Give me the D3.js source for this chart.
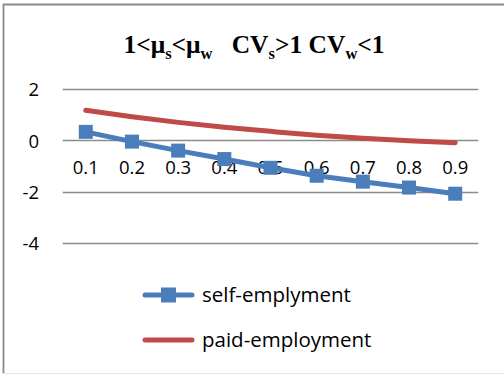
<!DOCTYPE html>
<html>
<head>
<meta charset="utf-8">
<script src="https://cdn.jsdelivr.net/npm/d3@7"></script>
<style>
  html, body { margin: 0; padding: 0; background: #fff; }
  svg { display: block; }
</style>
</head>
<body>
<svg id="chart" width="504" height="374"></svg>
<script>
// Categories on the x axis
const categories = ["0.1", "0.2", "0.3", "0.4", "0.5", "0.6", "0.7", "0.8", "0.9"];
// Series values
const selfEmployment = [0.33, -0.05, -0.40, -0.73, -1.07, -1.38, -1.61, -1.84, -2.08];
const paidEmployment = [1.17, 0.92, 0.70, 0.51, 0.35, 0.20, 0.08, -0.02, -0.09];
// Y axis ticks
const yTicks = [2, 0, -2, -4];
const seriesNames = ["self-emplyment", "paid-employment"];

const blue = "#4A7EBB";
const red = "#BE4B48";
const grid = "#8C8C8C";
const tickFont = "'Open Sans', 'Liberation Sans', sans-serif";

const svg = d3.select("#chart");

// Chart frame
svg.append("path")
  .attr("d", "M3.5,374 V4.5 H504")
  .attr("fill", "none")
  .attr("stroke", "#8A8A8A")
  .attr("stroke-width", 1.8);
svg.append("line")
  .attr("x1", 3).attr("x2", 504).attr("y1", 373.5).attr("y2", 373.5)
  .attr("stroke", "#E6E6E6").attr("stroke-width", 1);

// Title with subscripts
const title = svg.append("text")
  .attr("x", 254).attr("y", 53)
  .attr("text-anchor", "middle")
  .style("font-family", "'Liberation Serif', 'Times New Roman', serif")
  .style("font-weight", "bold")
  .style("font-size", "25.5px")
  .style("white-space", "pre")
  .attr("fill", "#000");
const parts = [
  ["1<μ", false], ["s", true], ["<μ", false], ["w", true],
  ["   CV", false], ["s", true], [">1 CV", false], ["w", true], ["<1", false]
];
parts.forEach(([t, sub], i) => {
  const prevSub = i > 0 && parts[i - 1][1];
  let dy = 0;
  if (sub && !prevSub) dy = 5.5;
  if (!sub && prevSub) dy = -5.5;
  const ts = title.append("tspan").attr("dy", dy).text(t);
  if (sub) ts.style("font-size", "16.5px");
});

// Scales
const x = d3.scaleBand().domain(categories).range([62.7, 478.3]);
const y = d3.scaleLinear().domain([-4, 2]).range([243, 89]);

// Horizontal gridlines
svg.append("g")
  .selectAll("line")
  .data(yTicks)
  .join("line")
  .attr("x1", 62.7).attr("x2", 478.3)
  .attr("y1", d => Math.round(y(d)) + 0.5)
  .attr("y2", d => Math.round(y(d)) + 0.5)
  .attr("stroke", grid)
  .attr("stroke-width", 1.5);

// Y axis labels
const yAxis = d3.axisLeft(y).tickValues(yTicks).tickSize(0).tickPadding(0)
  .tickFormat(d => d < 0 ? "-" + Math.abs(d) : d);
svg.append("g")
  .attr("transform", "translate(39,0)")
  .call(yAxis)
  .call(g => g.select(".domain").remove())
  .call(g => g.selectAll("text")
    .style("font-family", tickFont)
    .style("font-size", "18.5px")
    .attr("fill", "#000")
    .attr("dy", "0.36em"));

// X axis labels, placed just below the zero line
const xAxis = d3.axisBottom(x).tickSize(0).tickPadding(0);
svg.append("g")
  .attr("transform", `translate(0,${y(0)})`)
  .call(xAxis)
  .call(g => g.select(".domain").remove())
  .call(g => g.selectAll("text")
    .style("font-family", tickFont)
    .style("font-size", "18.5px")
    .attr("fill", "#000")
    .attr("dy", null)
    .attr("y", 34));

const cx = d => x(d) + x.bandwidth() / 2;

// Paid employment: smooth line
svg.append("path")
  .datum(paidEmployment)
  .attr("fill", "none")
  .attr("stroke", red)
  .attr("stroke-width", 5)
  .attr("stroke-linecap", "round")
  .attr("d", d3.line()
    .x((d, i) => cx(categories[i]))
    .y(d => y(d))
    .curve(d3.curveMonotoneX));

// Self employment: line with square markers
svg.append("path")
  .datum(selfEmployment)
  .attr("fill", "none")
  .attr("stroke", blue)
  .attr("stroke-width", 5)
  .attr("stroke-linecap", "round")
  .attr("d", d3.line()
    .x((d, i) => cx(categories[i]))
    .y(d => y(d)));

const ms = 14;
svg.append("g")
  .selectAll("rect")
  .data(selfEmployment)
  .join("rect")
  .attr("x", (d, i) => cx(categories[i]) - ms / 2)
  .attr("y", d => y(d) - ms / 2)
  .attr("width", ms).attr("height", ms)
  .attr("fill", blue);

// Legend
const legend = svg.append("g");
const legendRows = [
  { name: seriesNames[0], color: blue, marker: true, y: 295 },
  { name: seriesNames[1], color: red, marker: false, y: 340 }
];
legendRows.forEach(r => {
  legend.append("line")
    .attr("x1", 145).attr("x2", 192)
    .attr("y1", r.y).attr("y2", r.y)
    .attr("stroke", r.color).attr("stroke-width", 5)
    .attr("stroke-linecap", "round");
  if (r.marker) {
    legend.append("rect")
      .attr("x", 168.5 - 7.5).attr("y", r.y - 7.5)
      .attr("width", 15).attr("height", 15)
      .attr("fill", r.color);
  }
  legend.append("text")
    .attr("x", 202).attr("y", r.y)
    .attr("dy", "0.36em")
    .style("font-family", tickFont)
    .style("font-size", "20.5px")
    .attr("fill", "#000")
    .text(r.name);
});
</script>
</body>
</html>
